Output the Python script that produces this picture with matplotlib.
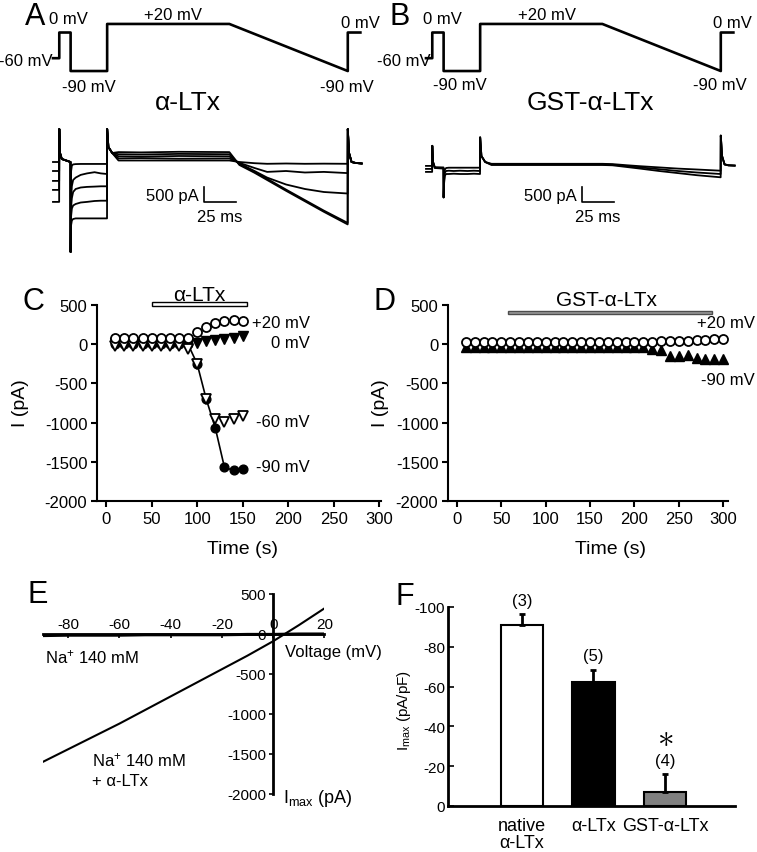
import matplotlib.pyplot as plt
from matplotlib.patches import Rectangle

plt.rcParams['font.family'] = ['Liberation Sans', 'DejaVu Sans']
plt.rcParams['mathtext.fontset'] = 'custom'
plt.rcParams['mathtext.rm'] = 'Liberation Sans'
plt.rcParams['mathtext.it'] = 'Liberation Sans:italic'
plt.rcParams['axes.unicode_minus'] = False

# ---- A / B : voltage protocol (ms, mV) ----
prot_t = [0, 5, 5, 14, 14, 43, 43, 140, 234, 234, 244]
prot_v = [-60, -60, 0, 0, -90, -90, 20, 20, -90, 0, 0]

# ---- A / B : current traces (ms, pA) ----
trace_t = [0, 4.9, 5.0, 5.6, 7, 13.9, 14.0, 14.4, 15, 16, 18, 22, 27, 33, 38, 42.9,
           43.0, 44, 47, 52, 70, 100, 140, 148, 160, 170, 185, 200, 215, 233.9,
           234.0, 235, 237, 240, 245]
traces_ltx = [
    [0, 0, 1100, 300, 100, 0, -3000, -300, -120, -80, -70, -65, -65, -65, -65, -65,
     1100, 500, 300, 50, 50, 50, 50, 0, -40, -60, -50, -60, -55, -60,
     1100, 300, 0, -30, -50],
    [-300, -300, 1100, 300, 100, 0, -3000, -1200, -800, -600, -520, -430, -380, -340, -380, -400,
     1100, 500, 300, 120, 130, 110, 120, -30, -200, -330, -300, -350, -330, -370,
     1100, 300, 0, -30, -50],
    [-630, -630, 1100, 300, 100, 0, -3000, -1500, -1200, -1000, -900, -850, -830, -820, -810, -810,
     1100, 500, 300, 190, 180, 200, 190, -50, -300, -520, -750, -900, -1000, -1050,
     1100, 300, 0, -30, -50],
    [-930, -930, 1100, 300, 100, 0, -3000, -1800, -1550, -1450, -1400, -1350, -1330, -1300, -1290, -1290,
     1100, 500, 300, 260, 250, 270, 260, -80, -330, -560, -920, -1270, -1620, -2030,
     1100, 300, 0, -30, -50],
    [-1330, -1330, 1100, 300, 100, 0, -3000, -2100, -1950, -1900, -1880, -1880, -1880, -1880, -1880, -1880,
     1100, 500, 300, 330, 320, 340, 330, -100, -360, -600, -960, -1310, -1660, -2080,
     1100, 300, 0, -30, -50],
]
traces_gst = [
    [-130, -130, 540, 0, -180, -180, -1180, -500, -250, -200, -190, -190, -190, -190, -190, -190,
     820, 200, 0, -60, -60, -60, -60, -70, -110, -140, -180, -220, -250, -290,
     880, 200, -80, -110, -120],
    [-230, -230, 540, 0, -180, -200, -1180, -600, -350, -300, -290, -300, -290, -300, -290, -300,
     820, 200, 0, -80, -80, -80, -80, -90, -140, -180, -240, -300, -350, -400,
     880, 200, -80, -110, -120],
    [-330, -330, 540, 0, -200, -220, -1180, -700, -450, -400, -400, -390, -400, -400, -390, -400,
     820, 200, 0, -100, -100, -100, -100, -110, -170, -220, -300, -370, -440, -510,
     880, 200, -80, -110, -120],
]
bar_pA = 500
bar_ms = 25

# ---- C : alpha-LTx time course (s, pA) ----
time_c = [10, 20, 30, 40, 50, 60, 70, 80, 90, 100, 110, 120, 130, 140, 150]
c_p20 = [80, 75, 75, 75, 75, 75, 75, 75, 75, 150, 215, 265, 295, 310, 300]
c_0 = [10, 10, 10, 10, 10, 10, 10, 10, 10, 20, 35, 50, 65, 85, 100]
c_m60 = [-25, -25, -25, -25, -25, -25, -25, -25, -60, -250, -700, -950, -990, -950, -920]
c_m90 = [5, 5, 5, 5, 5, 5, 5, 5, 0, -250, -700, -1070, -1570, -1610, -1590]

# ---- D : GST-alpha-LTx time course (s, pA) ----
time_d = [10, 20, 30, 40, 50, 60, 70, 80, 90, 100, 110, 120, 130, 140, 150,
          160, 170, 180, 190, 200, 210, 220, 230, 240, 250, 260, 270, 280, 290, 300]
d_p20 = [30, 30, 30, 30, 30, 30, 30, 30, 30, 30, 30, 30, 30, 30, 30,
         30, 30, 30, 30, 30, 30, 30, 35, 40, 40, 45, 50, 55, 60, 60]
d_m90 = [-35, -35, -35, -35, -35, -35, -35, -35, -35, -35, -35, -35, -35, -35, -35,
         -35, -35, -35, -35, -35, -35, -60, -70, -150, -150, -140, -170, -190, -190, -190]

# ---- E : I-V relation (mV, pA) ----
e_v = [-90, -80, -70, -60, -50, -40, -30, -20, -10, 0, 10, 20]
e_na = [-20, -15, -15, -15, -10, -10, -10, -10, -5, -5, 0, 0]
e_na_ltx = [-1600, -1440, -1280, -1120, -950, -780, -610, -440, -270, -90, 110, 320]

# ---- F : Imax summary (pA/pF) ----
f_groups = ['native\nα-LTx', 'α-LTx', 'GST-α-LTx']
f_mean = [-91, -62.5, -7]
f_sem = [5.5, 6, 9]
f_n = ['(3)', '(5)', '(4)']
f_colors = ['white', 'black', '#808080']

W, H = 757, 853
fig = plt.figure(figsize=(W / 100, H / 100), dpi=100)


def box(x0, y0, x1, y1):
    return [x0 / W, 1 - y1 / H, (x1 - x0) / W, (y1 - y0) / H]


def put(x, y, s, **kw):
    kw.setdefault('va', 'center')
    kw.setdefault('fontsize', 12)
    fig.text(x / W, 1 - y / H, s, **kw)


# ---------------- A and B ----------------
ab = [
    dict(x0=40, traces=traces_ltx, bar_t=120, letter=('A', 25),
         labels=[(49, 20, '0 mV', 'left'), (173, 15, '+20 mV', 'center'),
                 (380, 24, '0 mV', 'right'), (53, 62, '-60 mV', 'right'),
                 (62, 87, '-90 mV', 'left'), (320, 87, '-90 mV', 'left')],
         title=(188, 'α-LTx')),
    dict(x0=413, traces=traces_gst, bar_t=124, letter=('B', 390),
         labels=[(423, 20, '0 mV', 'left'), (547, 15, '+20 mV', 'center'),
                 (752, 24, '0 mV', 'right'), (431, 62, '-60 mV', 'right'),
                 (433, 86, '-90 mV', 'left'), (693, 86, '-90 mV', 'left')],
         title=(590, 'GST-α-LTx')),
]
for p in ab:
    axv = fig.add_axes(box(p['x0'], 8, p['x0'] + 335, 96))
    axv.plot(prot_t, prot_v, color='black', lw=1.9)
    axv.set_xlim(-10.3, 255.6)
    axv.set_ylim(-146, 59.6)
    axv.axis('off')

    axi = fig.add_axes(box(p['x0'], 115, p['x0'] + 335, 265))
    for tr in p['traces']:
        axi.plot(trace_t, tr, color='black', lw=1.3)
    bt = p['bar_t']
    axi.plot([bt, bt, bt + bar_ms], [-833, -833 - bar_pA, -833 - bar_pA], color='black', lw=1.2)
    axi.text(bt - 4, -1130, '500 pA', ha='right', va='center', fontsize=12)
    axi.text(bt - 6, -1800, '25 ms', ha='left', va='center', fontsize=12)
    axi.set_xlim(-10.3, 255.6)
    axi.set_ylim(-3400, 1600)
    axi.axis('off')

    put(p['letter'][1], 17, p['letter'][0], fontsize=22)
    for x, y, s, ha in p['labels']:
        put(x, y, s, ha=ha)
    put(p['title'][0], 103, p['title'][1], ha='center', fontsize=19)

# ---------------- C and D ----------------
axC = fig.add_axes(box(97, 306, 381, 502))
axD = fig.add_axes(box(448, 306, 728, 502))
for ax in (axC, axD):
    ax.spines['top'].set_visible(False)
    ax.spines['right'].set_visible(False)
    for s in ('left', 'bottom'):
        ax.spines[s].set_linewidth(1.5)
    ax.set_ylim(-2000, 500)
    ax.set_yticks([-2000, -1500, -1000, -500, 0, 500])
    ax.set_xticks([0, 50, 100, 150, 200, 250, 300])
    ax.tick_params(direction='out', length=4, width=1.5, labelsize=12, pad=3)
    ax.set_xlabel('Time (s)', fontsize=14)
    ax.set_ylabel('I (pA)', fontsize=14)
axC.set_xlim(-10, 302)
axD.set_xlim(-10.1, 305.5)
axC.yaxis.set_label_coords(-0.239, 0.505)
axD.yaxis.set_label_coords(-0.21, 0.505)
axC.xaxis.set_label_coords(0.514, -0.199)
axD.xaxis.set_label_coords(0.58, -0.199)

axC.plot(time_c, c_m90, color='black', lw=1.2, marker='o', ms=6.3, mfc='black', mec='black')
axC.plot(time_c, c_0, ls='none', marker='v', ms=7, mfc='black', mec='black')
axC.plot(time_c, c_m60, ls='none', marker='v', ms=7, mfc='white', mec='black', mew=1.3)
axC.plot(time_c, c_p20, ls='none', marker='o', ms=6.5, mfc='white', mec='black', mew=1.3)
axC.add_patch(Rectangle((50, 483), 105, 51, facecolor='white', edgecolor='black', lw=1, clip_on=False))
axC.text(102.5, 636, 'α-LTx', ha='center', va='center', fontsize=15)
for y, s in [(280, '+20 mV'), (25, '0 mV'), (-980, '-60 mV'), (-1565, '-90 mV')]:
    axC.text(224, y, s, ha='right', va='center', fontsize=12)

axD.plot(time_d, d_m90, ls='none', marker='^', ms=7, mfc='black', mec='black')
axD.plot(time_d, d_p20, ls='none', marker='o', ms=6.5, mfc='white', mec='black', mew=1.3)
axD.add_patch(Rectangle((58, 382), 230, 38, facecolor='0.6', edgecolor='0.3', lw=1, clip_on=False))
axD.text(169, 572, 'GST-α-LTx', ha='center', va='center', fontsize=15)
axD.text(336, 280, '+20 mV', ha='right', va='center', fontsize=12)
axD.text(336, -445, '-90 mV', ha='right', va='center', fontsize=12)

put(23, 302, 'C', fontsize=22)
put(374, 302, 'D', fontsize=22)

# ---------------- E ----------------
axE = fig.add_axes(box(42.6, 595, 324.4, 795))
axE.plot(e_v, e_na, color='black', lw=2.2)
axE.plot(e_v, e_na_ltx, color='black', lw=1.5)
axE.set_xlim(-90, 20)
axE.set_ylim(-2000, 500)
axE.spines['left'].set_position(('data', 0))
axE.spines['top'].set_position(('data', 0))
axE.spines['bottom'].set_visible(False)
axE.spines['right'].set_visible(False)
axE.spines['left'].set_linewidth(2)
axE.spines['top'].set_linewidth(2)
axE.xaxis.set_ticks_position('top')
axE.set_xticks([-80, -60, -40, -20, 0, 20])
axE.set_yticks([-2000, -1500, -1000, -500, 0, 500])
axE.tick_params(axis='x', direction='in', length=3, width=1.2, labelsize=11, pad=2)
axE.tick_params(axis='y', direction='out', length=3, width=1.2, labelsize=11, pad=2)
put(27, 595, 'E', fontsize=22)
put(45, 657, 'Na$^{+}$ 140 mM')
put(92, 760, 'Na$^{+}$ 140 mM')
put(92, 782, '+ α-LTx')
put(285, 652, 'Voltage (mV)')
put(283, 799, 'I$_{\\mathrm{max}}$ (pA)', fontsize=13)

# ---------------- F ----------------
axF = fig.add_axes(box(448, 608, 735, 807))
xs = range(len(f_groups))
axF.bar(xs, f_mean, width=0.6, color=f_colors, edgecolor='black', linewidth=1.5)
axF.errorbar(xs, f_mean, yerr=[f_sem, [0, 0, 0]], fmt='none', ecolor='black',
             elinewidth=2, capsize=2.5, capthick=2)
for i, s in enumerate(f_n):
    axF.text(i, f_mean[i] - f_sem[i] - 7, s, ha='center', va='center', fontsize=12)
axF.text(2, f_mean[2] - f_sem[2] - 19, r'$\ast$', ha='center', va='center', fontsize=24)
axF.set_xlim(-1.035, 2.98)
axF.set_ylim(0, -100)
axF.set_yticks([0, -20, -40, -60, -80, -100])
axF.set_xticks(list(xs))
axF.set_xticklabels(f_groups, fontsize=13, linespacing=1.0)
axF.spines['top'].set_visible(False)
axF.spines['right'].set_visible(False)
axF.spines['left'].set_linewidth(2)
axF.spines['bottom'].set_linewidth(2)
axF.tick_params(axis='x', length=0, pad=8)
axF.tick_params(axis='y', direction='in', length=4, width=1.2, labelsize=11, pad=2)
axF.set_ylabel('I$_{\\mathrm{max}}$ (pA/pF)', fontsize=11)
axF.yaxis.set_label_coords(-0.122, 0.487)
put(395, 597, 'F', fontsize=22)

fig.savefig('out.png', dpi=100)
